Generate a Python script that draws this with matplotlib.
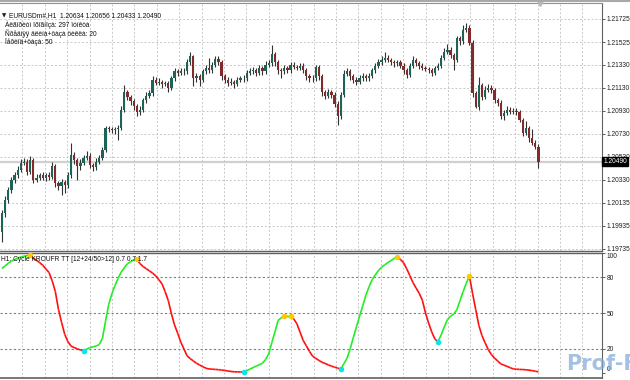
import numpy as np
import matplotlib
matplotlib.use("Agg")
import matplotlib.pyplot as plt
from matplotlib.collections import LineCollection
from matplotlib.lines import Line2D

# EURUSDm H1 bars
first_open = 1.1988
closes = [1.2004, 1.2016, 1.2024, 1.2033, 1.2037, 1.2042, 1.2048, 1.2049, 1.2040, 1.2050,
          1.2033, 1.2035, 1.2037, 1.2035, 1.2037, 1.2036, 1.2045, 1.2030, 1.2028, 1.2031,
          1.2029, 1.2037, 1.2055, 1.2050, 1.2045, 1.2048, 1.2052, 1.2054, 1.2046, 1.2044,
          1.2049, 1.2052, 1.2059, 1.2078, 1.2077, 1.2076, 1.2077, 1.2078, 1.2094, 1.2109,
          1.2105, 1.2101, 1.2097, 1.2092, 1.2094, 1.2102, 1.2106, 1.2108, 1.2120, 1.2117,
          1.2118, 1.2116, 1.2117, 1.2113, 1.2121, 1.2127, 1.2126, 1.2127, 1.2127, 1.2135,
          1.2140, 1.2121, 1.2123, 1.2120, 1.2127, 1.2130, 1.2128, 1.2133, 1.2138, 1.2135,
          1.2123, 1.2120, 1.2117, 1.2118, 1.2116, 1.2120, 1.2121, 1.2121, 1.2126, 1.2127,
          1.2128, 1.2126, 1.2130, 1.2127, 1.2133, 1.2134, 1.2142, 1.2135, 1.2128, 1.2127,
          1.2130, 1.2128, 1.2133, 1.2131, 1.2130, 1.2132, 1.2128, 1.2123, 1.2121, 1.2121,
          1.2131, 1.2123, 1.2109, 1.2106, 1.2109, 1.2107, 1.2099, 1.2088, 1.2107, 1.2125,
          1.2127, 1.2123, 1.2120, 1.2118, 1.2121, 1.2123, 1.2121, 1.2123, 1.2128, 1.2132,
          1.2135, 1.2137, 1.2139, 1.2137, 1.2135, 1.2134, 1.2135, 1.2132, 1.2128, 1.2124,
          1.2132, 1.2137, 1.2134, 1.2132, 1.2130, 1.2129, 1.2128, 1.2126, 1.2130, 1.2132,
          1.2139, 1.2144, 1.2146, 1.2141, 1.2137, 1.2156, 1.2153, 1.2163, 1.2165, 1.2152,
          1.2108, 1.2096, 1.2115, 1.2105, 1.2111, 1.2113, 1.2111, 1.2102, 1.2100, 1.2088,
          1.2091, 1.2094, 1.2092, 1.2093, 1.2092, 1.2085, 1.2074, 1.2078, 1.2069, 1.2065,
          1.2062, 1.2049]
highs = [1.2007, 1.2019, 1.2027, 1.2036, 1.2040, 1.2045, 1.2051, 1.2052, 1.2051, 1.2054,
         1.2052, 1.2038, 1.2039, 1.2040, 1.2039, 1.2040, 1.2049, 1.2047, 1.2032, 1.2034,
         1.2033, 1.2040, 1.2065, 1.2057, 1.2052, 1.2051, 1.2055, 1.2058, 1.2056, 1.2048,
         1.2052, 1.2055, 1.2062, 1.2080, 1.2080, 1.2079, 1.2079, 1.2081, 1.2097, 1.2115,
         1.2111, 1.2107, 1.2103, 1.2099, 1.2097, 1.2104, 1.2109, 1.2111, 1.2123, 1.2122,
         1.2121, 1.2120, 1.2119, 1.2119, 1.2123, 1.2130, 1.2129, 1.2130, 1.2130, 1.2138,
         1.2144, 1.2141, 1.2126, 1.2125, 1.2129, 1.2133, 1.2139, 1.2135, 1.2140, 1.2140,
         1.2137, 1.2125, 1.2122, 1.2121, 1.2120, 1.2122, 1.2123, 1.2124, 1.2128, 1.2130,
         1.2131, 1.2130, 1.2133, 1.2132, 1.2136, 1.2137, 1.2150, 1.2144, 1.2137, 1.2130,
         1.2133, 1.2132, 1.2135, 1.2135, 1.2133, 1.2134, 1.2134, 1.2130, 1.2125, 1.2124,
         1.2133, 1.2133, 1.2125, 1.2111, 1.2112, 1.2111, 1.2109, 1.2101, 1.2109, 1.2128,
         1.2130, 1.2129, 1.2125, 1.2122, 1.2124, 1.2126, 1.2125, 1.2126, 1.2130, 1.2134,
         1.2138, 1.2140, 1.2144, 1.2141, 1.2139, 1.2137, 1.2137, 1.2137, 1.2134, 1.2130,
         1.2134, 1.2140, 1.2139, 1.2136, 1.2134, 1.2132, 1.2131, 1.2130, 1.2132, 1.2134,
         1.2141, 1.2147, 1.2151, 1.2148, 1.2143, 1.2158, 1.2158, 1.2167, 1.2169, 1.2167,
         1.2154, 1.2110, 1.2122, 1.2117, 1.2114, 1.2116, 1.2115, 1.2113, 1.2104, 1.2102,
         1.2094, 1.2097, 1.2096, 1.2095, 1.2095, 1.2094, 1.2087, 1.2084, 1.2080, 1.2077,
         1.2068, 1.2064]
lows = [1.1979, 1.2001, 1.2013, 1.2022, 1.2030, 1.2035, 1.2040, 1.2046, 1.2037, 1.2038,
        1.2030, 1.2031, 1.2033, 1.2033, 1.2032, 1.2033, 1.2034, 1.2027, 1.2024, 1.2020,
        1.2022, 1.2026, 1.2035, 1.2047, 1.2033, 1.2042, 1.2046, 1.2050, 1.2043, 1.2041,
        1.2042, 1.2047, 1.2050, 1.2057, 1.2075, 1.2074, 1.2073, 1.2068, 1.2076, 1.2092,
        1.2102, 1.2098, 1.2094, 1.2088, 1.2089, 1.2092, 1.2100, 1.2104, 1.2106, 1.2115,
        1.2115, 1.2113, 1.2114, 1.2109, 1.2111, 1.2119, 1.2123, 1.2124, 1.2124, 1.2125,
        1.2133, 1.2114, 1.2118, 1.2114, 1.2118, 1.2125, 1.2126, 1.2126, 1.2131, 1.2133,
        1.2120, 1.2117, 1.2114, 1.2115, 1.2113, 1.2114, 1.2118, 1.2118, 1.2119, 1.2124,
        1.2125, 1.2123, 1.2124, 1.2124, 1.2125, 1.2131, 1.2132, 1.2132, 1.2125, 1.2121,
        1.2125, 1.2126, 1.2126, 1.2129, 1.2128, 1.2128, 1.2126, 1.2120, 1.2118, 1.2118,
        1.2119, 1.2120, 1.2106, 1.2103, 1.2104, 1.2104, 1.2096, 1.2081, 1.2086, 1.2105,
        1.2123, 1.2120, 1.2117, 1.2115, 1.2116, 1.2119, 1.2119, 1.2119, 1.2121, 1.2126,
        1.2130, 1.2133, 1.2135, 1.2135, 1.2133, 1.2131, 1.2132, 1.2130, 1.2125, 1.2121,
        1.2122, 1.2130, 1.2132, 1.2129, 1.2128, 1.2127, 1.2126, 1.2123, 1.2124, 1.2128,
        1.2130, 1.2137, 1.2142, 1.2139, 1.2128, 1.2135, 1.2150, 1.2151, 1.2161, 1.2150,
        1.2105, 1.2095, 1.2094, 1.2102, 1.2103, 1.2109, 1.2108, 1.2100, 1.2097, 1.2086,
        1.2085, 1.2089, 1.2090, 1.2090, 1.2089, 1.2083, 1.2071, 1.2072, 1.2066, 1.2063,
        1.2060, 1.2043]

# Cycle KROUFR TT oscillator (0..100)
cycle = [87.4, 89.6, 91.8, 93.6, 94.8, 96.1, 97.1, 97.7, 98.2, 98.6,
         96.0, 94.3, 92.3, 90.1, 87.0, 84.0, 77.0, 68.0, 53.0, 42.0,
         32.0, 26.0, 22.2, 21.0, 19.9, 19.0, 18.3, 19.7, 20.9, 21.6,
         22.2, 23.5, 28.5, 43.0, 57.0, 66.0, 73.0, 79.0, 84.4, 88.0,
         91.5, 93.0, 94.7, 95.0, 91.5, 89.0, 87.2, 85.4, 83.5, 81.2,
         78.0, 74.5, 68.0, 60.5, 49.5, 40.0, 33.0, 25.5, 19.8, 14.0,
         11.7, 9.7, 7.8, 6.3, 4.9, 3.6, 3.0, 2.8, 2.6, 2.4,
         2.1, 1.7, 1.3, 0.9, 0.6, 0.55, 0.5, 0.4, 1.5, 2.9,
         4.1, 5.3, 6.5, 7.7, 10.9, 15.5, 25.0, 34.0, 43.7, 46.0,
         47.3, 47.0, 47.2, 45.0, 41.0, 34.0, 27.0, 22.5, 17.8, 13.8,
         11.9, 10.2, 8.6, 7.6, 6.4, 5.4, 4.5, 3.7, 3.0, 7.5,
         12.0, 20.0, 29.5, 38.5, 47.5, 56.0, 65.0, 72.0, 78.0, 82.0,
         85.6, 88.5, 90.4, 92.4, 94.0, 95.8, 97.0, 95.0, 92.3, 87.2,
         81.5, 75.6, 71.0, 66.5, 60.7, 50.0, 41.6, 34.0, 28.0, 26.0,
         31.7, 38.3, 44.5, 47.3, 49.1, 52.8, 60.3, 68.0, 75.0, 81.0,
         66.6, 53.0, 39.7, 31.0, 25.0, 19.3, 15.1, 12.2, 9.7, 7.3,
         6.2, 5.2, 4.1, 3.0, 2.8, 2.6, 2.5, 2.3, 2.0, 1.6,
         1.1, 0.6]
cycle_peaks = [9, 43, 90, 92, 126, 149]
cycle_troughs = [26, 77, 108, 139]

price_ticks = [1.21725, 1.21525, 1.21330, 1.21130, 1.20930, 1.20730,
               1.20530, 1.20330, 1.20135, 1.19935, 1.19735]
price_labels = ["1.21725", "1.21525", "1.21330", "1.21130", "1.20930", "1.20730",
                "1.20530", "1.20330", "1.20135", "1.19935", "1.19735"]
last_price = 1.20490
levels = [80, 50, 20]
ind_ticks = [100, 80, 50, 20, 0]

header = "EURUSDm#,H1  1.20634 1.20656 1.20433 1.20490"
info_lines = ["Àëãîðèòì ïðîãíîçà: 297 ïóíêòà",
              "Ñðåäíÿÿ äëèíà+ôàçà öèêëà: 20",
              "Ïåðèîä+ôàçà: 50"]
ind_title = "H1: Cycle KROUFR TT [12+24/50>12] 0.7 0.7 1.7"

FONT = ["Liberation Sans", "DejaVu Sans"]
FS = 4.8
W, H = 630, 380
step = 3.137          # pixels per bar
x0 = 2                # pixel of first bar
plot_w = 602

fig = plt.figure(figsize=(W / 100, H / 100), dpi=100)
ax = fig.add_axes([0, 1 - 251 / H, plot_w / W, 248 / H])
ax2 = fig.add_axes([0, 1 - 378 / H, plot_w / W, 125 / H])

xlim = (-x0 / step, (plot_w - x0) / step)
xgrid = (np.arange(22.4, plot_w, 22.4) - x0) / step
grid_kw = dict(color="#c8c8c8", linestyle=(0, (2, 2)), linewidth=0.7)

# ---- price panel ----
opens = [first_open] + closes[:-1]
xs = np.arange(len(closes))
bull, bear, wick = "#1d6458", "#852a2a", "#333333"
ax.axhline(last_price, color="#d0d0d0", lw=1.6, zorder=0.5)
for i in xs:
    o, c = opens[i], closes[i]
    ax.vlines(i, lows[i], highs[i], color=wick, lw=0.8, zorder=2)
    bot = min(o, c)
    h = max(abs(c - o), 0.00003)
    ax.bar(i, h, bottom=bot, width=0.72, color=bull if c >= o else bear,
           linewidth=0, zorder=3)

ax.set_xlim(*xlim)
ax.set_ylim(1.19715, 1.21863)
ax.set_xticks(xgrid)
ax.set_xticklabels([])
ax.tick_params(axis="x", length=0)
ax.yaxis.tick_right()
ax.set_yticks(price_ticks)
ax.set_yticklabels(price_labels)
ax.tick_params(axis="y", length=2, width=0.6, color="#404040", pad=1.5,
               labelsize=FS, labelcolor="#202020")
for lab in ax.get_yticklabels():
    lab.set_family(FONT)
ax.grid(True, **grid_kw)
ax.set_axisbelow(True)
ax.spines["left"].set_visible(False)
ax.spines["right"].set_color("#606060")
ax.spines["top"].set_color("#909090")
ax.spines["bottom"].set_color("#606060")
ax.spines["bottom"].set_linewidth(1.0)

ax.text(1.002, last_price, "1.20490", transform=ax.get_yaxis_transform(),
        va="center", ha="left", fontsize=FS, family=FONT, color="white",
        bbox=dict(boxstyle="square,pad=0.2", fc="black", ec="black"),
        clip_on=False, zorder=10)
ax.plot(len(closes) - 0.5, 1.21863, marker="v", color="#b8b8b8", ms=4,
        clip_on=False, zorder=10)

fig.text(2 / W, 1 - 16 / H, "▼", fontsize=4, family=["DejaVu Sans"],
         va="center", color="#202020")
fig.text(9 / W, 1 - 16 / H, header, fontsize=FS, family=FONT,
         va="center", color="#101010")
for k, line in enumerate(info_lines):
    fig.text(5 / W, 1 - (25 + 8.6 * k) / H, line, fontsize=FS, family=FONT,
             va="center", color="#101010")

# ---- oscillator panel ----
cyc = np.array(cycle)
pts = np.column_stack([xs, cyc])
segs = np.stack([pts[:-1], pts[1:]], axis=1)
cols = ["#22ee22" if cyc[i + 1] >= cyc[i] else "#ff1010" for i in range(len(cyc) - 1)]
ax2.add_collection(LineCollection(segs, colors=cols, linewidths=1.2, zorder=3))
ax2.scatter(cycle_peaks, cyc[cycle_peaks], s=16, color="#ffc800", zorder=4, linewidths=0)
ax2.scatter(cycle_troughs, cyc[cycle_troughs], s=16, color="#00e8f0", zorder=4, linewidths=0)
for lv in levels:
    ax2.axhline(lv, color="#808080", linestyle=(0, (2, 2)), lw=0.8, zorder=1)

ax2.set_xlim(*xlim)
ax2.set_ylim(-4.6, 100.4)
ax2.set_xticks(xgrid)
ax2.set_xticklabels([])
ax2.tick_params(axis="x", length=0)
ax2.grid(True, axis="x", **grid_kw)
ax2.set_axisbelow(True)
ax2.yaxis.tick_right()
ax2.set_yticks(ind_ticks)
ax2.set_yticklabels([str(t) for t in ind_ticks])
ax2.tick_params(axis="y", length=2, width=0.6, color="#404040", pad=1.5,
                labelsize=FS, labelcolor="#202020")
for lab, t in zip(ax2.get_yticklabels(), ind_ticks):
    lab.set_family(FONT)
    if t == 100:
        lab.set_va("top")
    elif t == 0:
        lab.set_va("bottom")
ax2.spines["left"].set_visible(False)
ax2.spines["right"].set_color("#606060")
ax2.spines["top"].set_color("#606060")
ax2.spines["top"].set_linewidth(1.0)
ax2.spines["bottom"].set_color("#606060")
ax2.spines["bottom"].set_linewidth(1.2)
ax2.text(1 / plot_w, 0.95, ind_title, transform=ax2.transAxes, fontsize=FS,
         family=FONT, va="center", ha="left", color="#101010", zorder=5)

# watermark
fig.text(566 / W, 1 - 364 / H, "Prof-FX", fontsize=15, fontweight="bold",
         family=["DejaVu Sans"], color="#7fa7d6", alpha=0.7, va="center", zorder=0)

fig.add_artist(Line2D([0, 1], [1 - 1 / H, 1 - 1 / H], color="#a8a8a8", lw=1.5))

fig.savefig("out.png", dpi=100)
